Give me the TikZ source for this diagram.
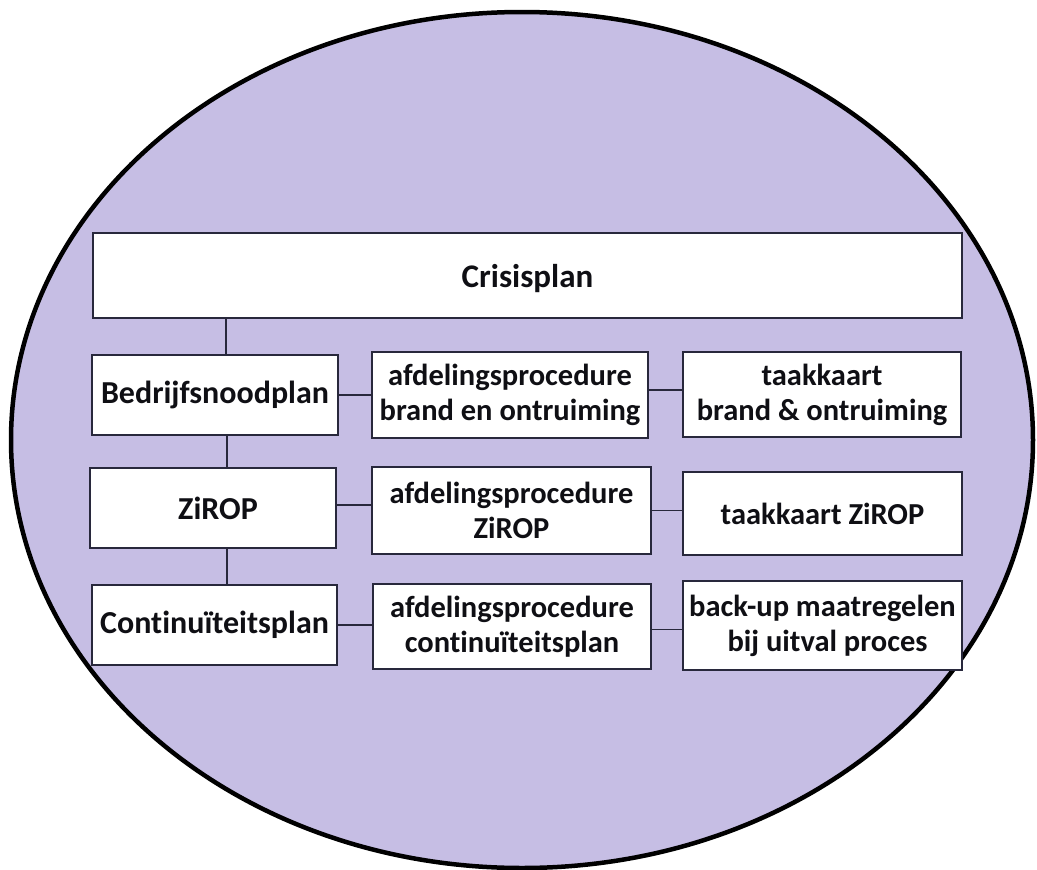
\documentclass[tikz,border=0pt]{standalone}
\usepackage{fontspec}
\setmainfont{Carlito}[Ligatures=NoCommon]
\definecolor{lav}{RGB}{198,190,228}
\definecolor{ink}{RGB}{15,15,20}
\definecolor{edge}{RGB}{40,40,60}
\begin{document}
\begin{tikzpicture}[x=1pt,y=-1pt,
  box/.style={draw=edge,line width=1.7pt,fill=white,inner sep=0pt,align=center,
    font=\fontsize{30.5}{35}\selectfont\bfseries,text=ink},
  bigbox/.style={box,font=\fontsize{32}{35}\selectfont\bfseries},
  link/.style={draw=edge,line width=1.7pt}]
\useasboundingbox (0,0) rectangle (1037,870);
\draw[line width=4.5pt,fill=lav] (522,440) ellipse [x radius=511, y radius=428];
\node[box,font=\fontsize{33}{35}\selectfont\bfseries,minimum width=869pt,minimum height=85pt,text depth=-4pt] (crisis) at (527.5,275.5) {Crisisplan};
\node[bigbox,minimum width=246pt,minimum height=80pt] (bedr) at (215,395) {Bedrijfsnoodplan};
\node[box,minimum width=276pt,minimum height=86pt] (afd1) at (510,395) {afdelingsprocedure\\brand en ontruiming};
\node[box,minimum width=278pt,minimum height=85pt] (taak1) at (822,394.5) {taakkaart\\brand \& ontruiming};
\node[bigbox,minimum width=246pt,minimum height=80pt] (zirop) at (213,508) {\hspace*{10pt}ZiROP};
\node[box,minimum width=279pt,minimum height=87pt] (afd2) at (511.5,510.5) {afdelingsprocedure\\ZiROP};
\node[box,minimum width=279pt,minimum height=83pt] (taak2) at (822.5,513.5) {taakkaart ZiROP};
\node[bigbox,minimum width=245pt,minimum height=80pt] (cont) at (214.5,625) {Continuïteitsplan};
\node[box,minimum width=278pt,minimum height=85pt] (afd3) at (512,626.5) {afdelingsprocedure\\continuïteitsplan};
\node[box,minimum width=279pt,minimum height=89pt] (back) at (822.5,625.5) {back-up maatregelen\\\hspace*{10pt}bij uitval proces};
% vertical links
\draw[link] ([xshift=11pt]bedr.north) -- ([xshift=11pt]bedr.north |- crisis.south);
\draw[link] ([xshift=12pt]bedr.south) -- ([xshift=12pt]bedr.south |- zirop.north);
\draw[link] ([xshift=14pt]zirop.south) -- ([xshift=14pt]zirop.south |- cont.north);
% horizontal links
\draw[link] (bedr.east) -- (bedr.east -| afd1.west);
\draw[link] ([yshift=5pt]afd1.east) -- ([yshift=5pt]afd1.east -| taak1.west);
\draw[link] ([yshift=3pt]zirop.east) -- ([yshift=3pt]zirop.east -| afd2.west);
\draw[link] (afd2.east) -- (afd2.east -| taak2.west);
\draw[link] (cont.east) -- (cont.east -| afd3.west);
\draw[link] ([yshift=-3pt]afd3.east) -- ([yshift=-3pt]afd3.east -| back.west);
\end{tikzpicture}
\end{document}
